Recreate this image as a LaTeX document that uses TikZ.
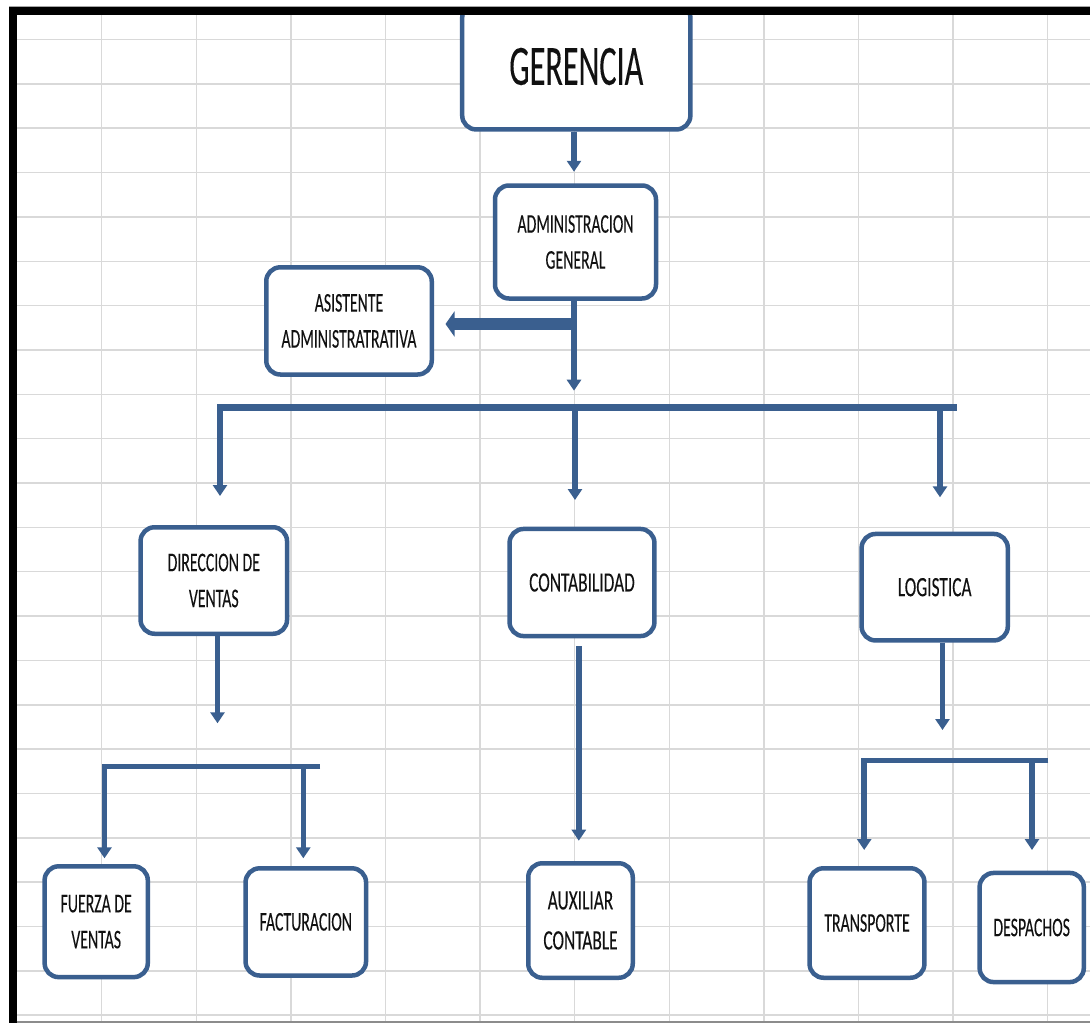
\documentclass[tikz,border=0pt]{standalone}
\usepackage{fontspec}
\setmainfont{Carlito}
\newfontfamily\gfont[FakeStretch=0.565,FakeBold=0.12]{Carlito}
\newfontfamily\bfont[FakeStretch=0.585,FakeBold=0.15]{Carlito}
\newfontfamily\wfont[FakeStretch=0.62,FakeBold=0.15]{Carlito}
\usetikzlibrary{arrows.meta}
\definecolor{lineblue}{HTML}{3A5F8F}
\definecolor{gridgray}{HTML}{D9D9D9}
\definecolor{txt}{HTML}{111111}
\begin{document}
\begin{tikzpicture}[x=1pt,y=-1pt,
  box/.style={draw=lineblue, line width=4.5pt, rounded corners=14pt, fill=white, text=txt,
    align=center, inner sep=0pt, font=\bfont\fontsize{27}{36}\selectfont},
  wide/.style={font=\wfont\fontsize{28}{40}\selectfont},
  conn/.style={draw=lineblue, line width=6pt, line join=miter},
  arr/.style={conn, -{Triangle[width=14pt,length=11pt]}},
  gridline/.style={draw=gridgray, line width=1.5pt},
]
\useasboundingbox (0,0) rectangle (1090,1023);
\fill[white] (0,0) rectangle (1090,1023);
% spreadsheet grid
\foreach \i in {0,...,10} \draw[gridline] ({101.7+94.6*\i},0) -- ({101.7+94.6*\i},1023);
\foreach \j in {0,...,22} \draw[gridline] (0,{39.5+44.35*\j}) -- (1090,{39.5+44.35*\j});

% boxes
\node[box, minimum width=228.2pt, minimum height=125.9pt, font=\gfont\fontsize{57}{60}\selectfont] (ger) at (576.3,66.5) {GERENCIA};
\node[box, minimum width=161pt, minimum height=113pt] (adm) at (575.5,242) {ADMINISTRACION\\GENERAL};
\node[box, minimum width=165.5pt, minimum height=107.2pt] (asi) at (349,320.9) {ASISTENTE\\ADMINISTRATRATIVA};
\node[box, minimum width=146.5pt, minimum height=106.5pt] (dir) at (213.8,580.5) {DIRECCION DE\\VENTAS};
\node[box, wide, minimum width=144.9pt, minimum height=107.1pt] (con) at (582,582.5) {CONTABILIDAD};
\node[box, wide, minimum width=146.2pt, minimum height=106.5pt] (log) at (934.7,587.2) {LOGISTICA};
\node[box, minimum width=103.2pt, minimum height=110.8pt] (fue) at (96.2,921.7) {FUERZA DE\\VENTAS};
\node[box, minimum width=120.5pt, minimum height=107.2pt] (fac) at (305.8,921.9) {FACTURACION};
\node[box, wide, minimum width=104.5pt, minimum height=114.5pt] (aux) at (580.5,920.5) {AUXILIAR\\CONTABLE};
\node[box, minimum width=114.9pt, minimum height=109.5pt] (tra) at (867,923) {TRANSPORTE};
\node[box, minimum width=104.2pt, minimum height=109.1pt] (des) at (1031.7,927.5) {DESPACHOS};

% connector points
\coordinate (gerx) at (574,0);
\coordinate (admtip) at (574,390.7);
\coordinate (asibr) at (574,324);
\coordinate (busL) at (220,407.3);
\coordinate (busR) at (956.7,407.3);
\coordinate (dirtip) at (220,496);
\coordinate (contip) at (575,500);
\coordinate (logtip) at (940,497.3);
\coordinate (dirdown) at (217.5,723.3);
\coordinate (sbL) at (104.5,766.7);
\coordinate (sbR) at (320,766.7);
\coordinate (fuetip) at (104.5,858.3);
\coordinate (factip) at (303.3,858.3);
\coordinate (auxtip) at (578.8,840.7);
\coordinate (logdown) at (942.5,730);
\coordinate (srL) at (864.2,760.3);
\coordinate (srR) at (1048.3,760.3);
\coordinate (tratip) at (864.2,850);
\coordinate (destip) at (1032,850);

% connectors
\draw[arr, shorten >=11.5pt] (ger.south -| gerx) -- (adm.north -| gerx);
\draw[arr] (adm.south -| admtip) -- (admtip);
\draw[conn, line width=11.7pt, -{Triangle[width=25pt,length=9pt]}, shorten >=11.5pt] (asibr) -- (asi.east |- asibr);
\draw[arr, line width=6.5pt] (busR) -- (busL) -- (dirtip);
\draw[arr, line width=6.5pt] (busL -| contip) -- (contip);
\draw[arr, line width=6.5pt] (busL -| logtip) -- (logtip);
\draw[arr, line width=5.3pt] (dir.south -| dirdown) -- (dirdown);
\draw[arr, line width=5.5pt] (sbR) -- (sbL) -- (fuetip);
\draw[arr, line width=5.5pt] (sbL -| factip) -- (factip);
\draw[arr, shorten <=8pt] (con.south -| auxtip) -- (auxtip);
\draw[arr, line width=5pt] (log.south -| logdown) -- (logdown);
\draw[arr, line width=5.5pt] (srR) -- (srL) -- (tratip);
\draw[arr, line width=5.5pt] (srL -| destip) -- (destip);

% sheet frame
\fill[white] (0,0) rectangle (1090,6);
\fill[white] (0,0) rectangle (9,1023);
\draw[black!35, line width=1pt] (9,6.2) -- (1090,6.2);
\fill[black] (9,6.7) rectangle (1090,14.7);
\fill[black] (9,6.7) rectangle (16.7,1023);
\draw[black!45, line width=1.5pt] (16.7,1021.8) -- (1090,1021.8);
\end{tikzpicture}
\end{document}
